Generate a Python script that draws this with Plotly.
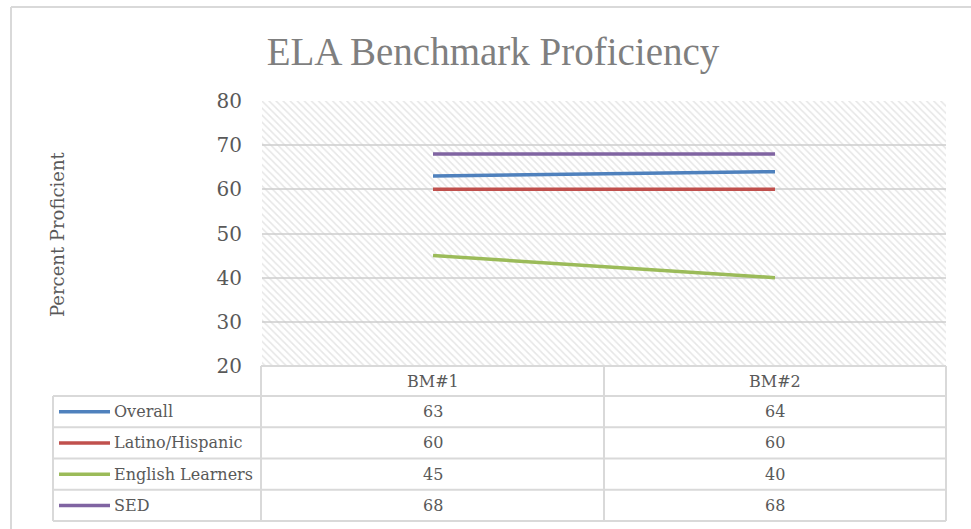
import plotly.graph_objects as go

# ---------------- data ----------------
categories = ["BM#1", "BM#2"]
series_names = ["Overall", "Latino/Hispanic", "English Learners", "SED"]
overall = [63, 64]
latino = [60, 60]
english = [45, 40]
sed = [68, 68]
y_ticks = [20, 30, 40, 50, 60, 70, 80]
colors = ["#4f81bd", "#c0504d", "#9bbb59", "#8064a2"]
title_text = "ELA Benchmark Proficiency"
y_title = "Percent Proficient"

series_values = [overall, latino, english, sed]

# ---------------- geometry (pixels) ----------------
W, H = 971, 529
L, R, T, B = 262, 946, 101, 366


def xp(px):
    return (px - L) / (R - L)


def yp(py):
    return (B - py) / (B - T)


SERIF = "DejaVu Serif, serif"
TXT = "#595959"
GRID = "#d9d9d9"

fig = go.Figure()

# hatched plot-area background
fig.add_trace(go.Bar(
    x=categories,
    y=[y_ticks[-1] - y_ticks[0]] * len(categories),
    base=y_ticks[0],
    width=1,
    marker=dict(color="rgba(0,0,0,0)", line=dict(width=0),
                pattern=dict(shape="\\", fgcolor="#cdcdcd", bgcolor="rgba(0,0,0,0)",
                             size=5, solidity=0.3)),
    hoverinfo="skip", showlegend=False,
))

for name, vals, col in zip(series_names, series_values, colors):
    fig.add_trace(go.Scatter(
        x=categories, y=vals, name=name, mode="lines",
        line=dict(color=col, width=3.5), showlegend=False,
    ))

shapes = []
annotations = []

# outer chart border
shapes.append(dict(type="line", xref="paper", yref="paper",
                   x0=xp(11), x1=xp(975), y0=yp(7), y1=yp(7),
                   line=dict(color=GRID, width=2)))
shapes.append(dict(type="line", xref="paper", yref="paper",
                   x0=xp(11), x1=xp(11), y0=yp(7), y1=yp(535),
                   line=dict(color=GRID, width=2)))

# data table
col_x = [261, 604, 946]
leg_left = 53
header_top, header_bot = 366, 396
table_bot = 521
n = len(series_names)
row_h = (table_bot - header_bot) / n
row_y = [header_bot + i * row_h for i in range(n + 1)]


def hline(y, x0, x1):
    shapes.append(dict(type="line", xref="paper", yref="paper",
                       x0=xp(x0), x1=xp(x1), y0=yp(y), y1=yp(y),
                       line=dict(color=GRID, width=2)))


def vline(x, y0, y1):
    shapes.append(dict(type="line", xref="paper", yref="paper",
                       x0=xp(x), x1=xp(x), y0=yp(y0), y1=yp(y1),
                       line=dict(color=GRID, width=2)))


hline(header_top, col_x[0], col_x[-1])
for y in row_y:
    hline(y, leg_left, col_x[-1])
vline(leg_left, header_bot, table_bot)
for x in col_x:
    vline(x, header_top, table_bot)

# header labels
for j, cat in enumerate(categories):
    cx = (col_x[j] + col_x[j + 1]) / 2
    annotations.append(dict(xref="paper", yref="paper", x=xp(cx),
                            y=yp((header_top + header_bot) / 2),
                            text=cat, showarrow=False, xanchor="center", yanchor="middle",
                            font=dict(family=SERIF, size=16, color=TXT)))

# rows
for i, (name, vals, col) in enumerate(zip(series_names, series_values, colors)):
    cy = (row_y[i] + row_y[i + 1]) / 2
    shapes.append(dict(type="line", xref="paper", yref="paper",
                       x0=xp(59), x1=xp(110), y0=yp(cy), y1=yp(cy),
                       line=dict(color=col, width=3.5)))
    annotations.append(dict(xref="paper", yref="paper", x=xp(112), y=yp(cy),
                            text=name, showarrow=False, xanchor="left", yanchor="middle",
                            font=dict(family=SERIF, size=16, color=TXT)))
    for j, v in enumerate(vals):
        cx = (col_x[j] + col_x[j + 1]) / 2
        annotations.append(dict(xref="paper", yref="paper", x=xp(cx), y=yp(cy),
                                text=str(v), showarrow=False, xanchor="center",
                                yanchor="middle",
                                font=dict(family=SERIF, size=16, color=TXT)))

# y-axis title
annotations.append(dict(xref="paper", yref="paper", x=xp(57), y=yp(234),
                        text=y_title, textangle=-90, showarrow=False,
                        xanchor="center", yanchor="middle",
                        font=dict(family=SERIF, size=18, color=TXT)))

fig.update_layout(
    width=W, height=H,
    margin=dict(l=L, r=W - R, t=T, b=H - B, pad=0),
    paper_bgcolor="white", plot_bgcolor="white",
    barmode="overlay", bargap=0,
    title=dict(text=title_text, x=493 / W, xanchor="center", y=1 - 51 / H,
               yanchor="middle",
               font=dict(family="Liberation Serif, Times New Roman, serif",
                         size=39, color="#7f7f7f")),
    xaxis=dict(type="category", range=[-0.5, len(categories) - 0.5],
               showticklabels=False, showgrid=False, zeroline=False,
               showline=False, ticks=""),
    yaxis=dict(range=[y_ticks[0], y_ticks[-1]], tickvals=y_ticks,
               showgrid=True, gridcolor=GRID, gridwidth=1.5, zeroline=False,
               showline=False, ticks="", ticklabelstandoff=19,
               tickfont=dict(family=SERIF, size=20, color=TXT)),
    shapes=shapes, annotations=annotations,
    showlegend=False,
)

fig.write_html("out.html", config={"displayModeBar": False},
               post_script="document.body.style.margin='0';")
